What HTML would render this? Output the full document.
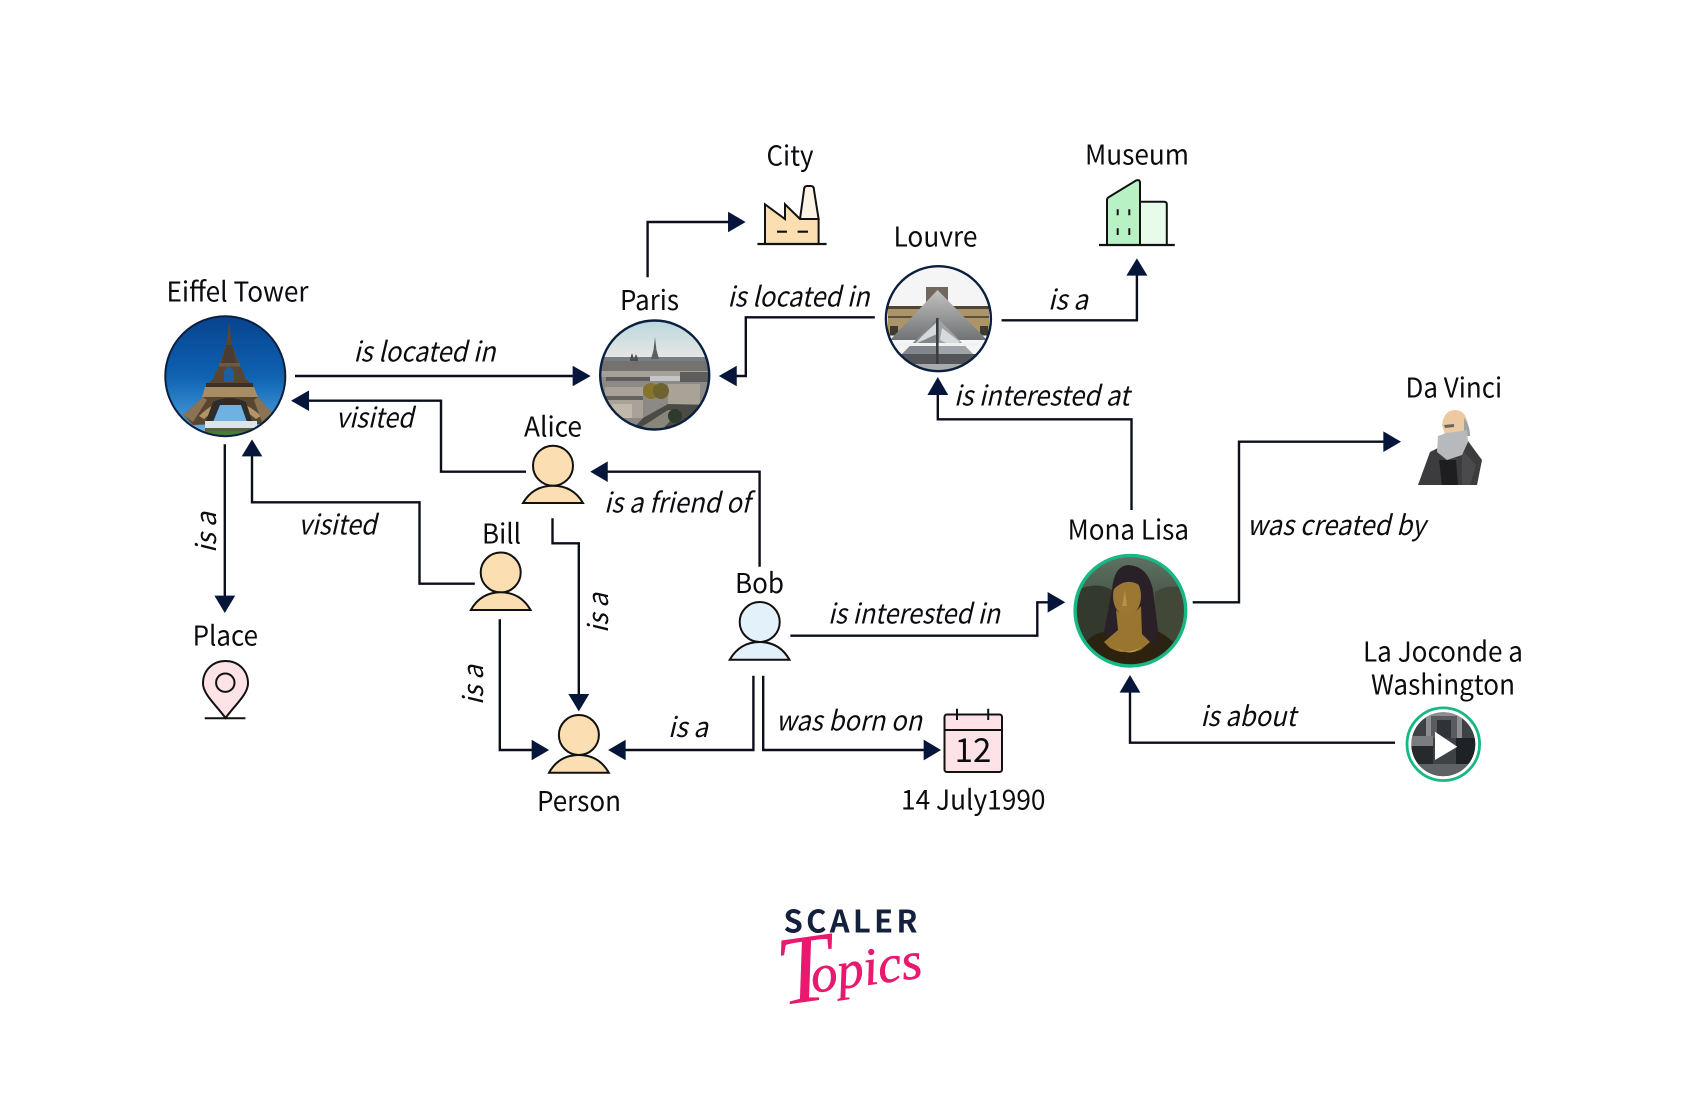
<!DOCTYPE html>
<html><head><meta charset="utf-8"><style>
html,body{margin:0;padding:0;background:#fff;width:1700px;height:1120px;overflow:hidden}
svg{display:block}
text{font-family:"Noto Sans CJK JP","Liberation Sans",sans-serif;font-size:27.5px;fill:#0c0c10}
.e{font-style:italic}
.l{fill:none;stroke:#0b0f1c;stroke-width:2.4}
.a{fill:#05163a;stroke:#05163a;stroke-width:.7}
.ic{stroke:#111;stroke-width:2}
</style></head><body>
<svg width="1700" height="1120" viewBox="0 0 1700 1120" xmlns="http://www.w3.org/2000/svg">
<defs>
<clipPath id="c1"><circle cx="225.5" cy="376" r="60"/></clipPath>
<clipPath id="c2"><circle cx="654.7" cy="375" r="54.5"/></clipPath>
<clipPath id="c3"><circle cx="938.4" cy="318.7" r="52"/></clipPath>
<clipPath id="c4"><circle cx="1130.4" cy="610.7" r="55"/></clipPath>
<clipPath id="c5"><circle cx="1443.3" cy="744.2" r="32"/></clipPath>
<linearGradient id="sky" x1="0" y1="0" x2="0" y2="1"><stop offset="0" stop-color="#07428c"/><stop offset=".5" stop-color="#0e62b2"/><stop offset=".85" stop-color="#3f95d6"/><stop offset="1" stop-color="#8cc4ea"/></linearGradient>
<linearGradient id="psky" x1="0" y1="0" x2="0" y2="1"><stop offset="0" stop-color="#b9d7df"/><stop offset=".35" stop-color="#e9e7e2"/></linearGradient>
<linearGradient id="msky" x1="0" y1="0" x2="0" y2="1"><stop offset="0" stop-color="#5f7365"/><stop offset=".5" stop-color="#43503f"/><stop offset="1" stop-color="#2e3020"/></linearGradient>
<linearGradient id="pyr" x1="0" y1="0" x2="0" y2="1"><stop offset="0" stop-color="#c2c2c0"/><stop offset="1" stop-color="#707274"/></linearGradient>
</defs>

<!-- connectors -->
<path class="l" d="M295 376H576"/><path class="a" d="M590 376L573 366.3V385.7Z"/>
<path class="l" d="M647.6 277.3V222H730"/><path class="a" d="M745 222L728.4 212.3V231.7Z"/>
<path class="l" d="M874.8 317.3H745.8V376H734"/><path class="a" d="M719.5 376L736.4 366.3V385.7Z"/>
<path class="l" d="M526 471.7H441V400.7H306"/><path class="a" d="M291.8 400.7L308.7 391V410.4Z"/>
<path class="l" d="M552.5 518.3V543.3H578.8V697"/><path class="a" d="M578.8 710.7L569 694.3H588.6Z"/>
<path class="l" d="M224.8 444.3V598"/><path class="a" d="M224.8 612.3L215 596H234.6Z"/>
<path class="l" d="M474.8 583.7H419.5V502.3H252V454"/><path class="a" d="M252 440L242.3 456H261.7Z"/>
<path class="l" d="M499.8 619.3V750H534"/><path class="a" d="M548.5 750L532 740.3V759.7Z"/>
<path class="l" d="M753.4 675.7V750H623"/><path class="a" d="M608.8 750L625.3 740.3V759.7Z"/>
<path class="l" d="M763.2 675.7V750H926"/><path class="a" d="M940.4 750L924 740.3V759.7Z"/>
<path class="l" d="M759.6 566.7V471.7H605"/><path class="a" d="M591 471.7L607.4 462V481.4Z"/>
<path class="l" d="M790.4 635.7H1037.3V602.3H1050"/><path class="a" d="M1064.6 602.3L1048 592.6V612Z"/>
<path class="l" d="M1131.5 510V419.3H937.8V392"/><path class="a" d="M937.8 377.7L928 394.7H947.6Z"/>
<path class="l" d="M1001.6 320.3H1136.9V273"/><path class="a" d="M1136.9 259L1127 275.3H1146.8Z"/>
<path class="l" d="M1192.7 602.3H1239V441.7H1386"/><path class="a" d="M1400.3 441.7L1383.7 432V451.4Z"/>
<path class="l" d="M1395 742.7H1130V690"/><path class="a" d="M1130 675.7L1120.2 692.3H1139.8Z"/>

<!-- Eiffel photo -->
<g clip-path="url(#c1)">
<rect x="165" y="315" width="122" height="122" fill="url(#sky)"/>
<path d="M229 322L232 345L239 363L246 379L253 385L258 397L272 413L262 424L240 424L236 404H222L217 424L193 425L183 415L203 397L206 385L213 379L220 363L226 345Z" fill="#5a4630"/>
<path d="M226 345H232L236 363H222Z" fill="#4a3c30"/>
<path d="M224 372Q229 362 234 372V382H224Z" fill="#1c5ea6"/>
<rect x="219" y="363" width="21" height="3.5" fill="#6b5a44"/>
<rect x="206" y="383" width="47" height="4" fill="#3c3026"/>
<path d="M205 387H254L258 397H202Z" fill="#a88d64"/>
<path d="M199 416Q229 386 261 416L256 419Q229 396 204 419Z" fill="#b19467"/>
<path d="M213 402Q229 394 246 402L252 421H206Z" fill="#2f2c2a"/>
<path d="M220 405H241L247 422H213Z" fill="#6fb2e2"/>
<path d="M183 415L203 397L207 400L193 422Z" fill="#8a7352"/>
<path d="M272 413L258 397L254 400L262 422Z" fill="#8a7352"/>
<rect x="205" y="421" width="52" height="9" fill="#dbe4e6"/>
<rect x="205" y="428" width="50" height="3" fill="#56603f"/>
<rect x="165" y="431" width="122" height="7" fill="#4a7a3a"/>
</g>
<circle cx="225.3" cy="376.2" r="60" fill="none" stroke="#0b1f3e" stroke-width="2"/>

<!-- Paris photo -->
<g clip-path="url(#c2)">
<rect x="599" y="320" width="112" height="112" fill="url(#psky)"/>
<rect x="599" y="358" width="112" height="75" fill="#8d8986"/>
<rect x="599" y="357" width="112" height="4" fill="#777f86"/>
<path d="M655 337L656.5 350L659 359H651L653.5 350Z" fill="#5a6068"/>
<path d="M630 366V359L632 353L634 359L636 354L638 359V366Z" fill="#4a4c58"/>
<rect x="599" y="361" width="112" height="10" fill="#74716f"/>
<rect x="599" y="371" width="112" height="6" fill="#a5a09a"/>
<rect x="606" y="377" width="44" height="4" fill="#5e5a5c"/>
<rect x="650" y="376" width="30" height="5" fill="#c4c6c6"/>
<rect x="680" y="372" width="30" height="10" fill="#5f5d5c"/>
<rect x="605" y="387" width="38" height="31" fill="#a9a299"/>
<rect x="605" y="396" width="38" height="4" fill="#666262"/>
<rect x="612" y="404" width="20" height="14" fill="#c0b8aa"/>
<rect x="668" y="384" width="32" height="20" fill="#a8a297"/>
<circle cx="651" cy="391" r="8" fill="#86732e"/><circle cx="661" cy="391" r="8" fill="#6c6330"/>
<path d="M643 418L668 404L700 405L690 432H630Z" fill="#4a4a46"/>
<path d="M640 428L668 410L680 410L660 432Z" fill="#8a857a"/>
<circle cx="675" cy="416" r="7" fill="#2f3a2e"/>
</g>
<circle cx="654.7" cy="375" r="54.5" fill="none" stroke="#0b1f3e" stroke-width="2.4"/>

<!-- Louvre photo -->
<g clip-path="url(#c3)">
<rect x="885" y="265" width="108" height="108" fill="#f6f5f5"/>
<rect x="888" y="306" width="101" height="30" fill="#ac9468"/>
<rect x="888" y="306" width="101" height="3" fill="#4e4538"/>
<rect x="888" y="316" width="101" height="2" fill="#5e503a"/>
<rect x="890" y="326" width="8" height="9" fill="#3e3a34"/><rect x="980" y="326" width="8" height="9" fill="#3e3a34"/>
<path d="M926 287H948V302H926Z" fill="#70685f"/>
<path d="M937.5 290L987 340H890Z" fill="url(#pyr)"/>
<path d="M937.5 318L973 354H902Z" fill="#9fa4a8"/>
<path d="M937.5 318V354H902Z" fill="#81878c"/>
<path d="M922 336L937 322V334L915 344Z" fill="#d6d9da"/><path d="M942 328L960 342L952 346L940 340Z" fill="#d8dbdc"/>
<rect x="897" y="343" width="82" height="3" fill="#f0f1f1"/>
<rect x="885" y="354" width="108" height="10" fill="#54565a"/>
<rect x="885" y="364" width="108" height="10" fill="#a9aaac"/>
<rect x="936" y="318" width="2.6" height="46" fill="#3a3d42"/>
</g>
<circle cx="938.4" cy="318.7" r="52.5" fill="none" stroke="#0b1f3e" stroke-width="2.4"/>

<!-- Mona Lisa -->
<g clip-path="url(#c4)">
<rect x="1074" y="554" width="114" height="114" fill="url(#msky)"/>
<path d="M1074 592Q1095 580 1112 590V640H1074Z" fill="#33392c"/>
<path d="M1188 590Q1170 582 1155 592V640H1188Z" fill="#414838"/>
<path d="M1070 668Q1085 632 1106 632L1132 660L1150 628Q1175 636 1192 668Z" fill="#2c2212"/>
<path d="M1112 590Q1114 566 1128 565Q1148 566 1153 590L1158 630L1156 645L1140 640L1112 640L1104 632Z" fill="#2a2028"/>
<ellipse cx="1127" cy="596" rx="14" ry="20" fill="#9a7834"/>
<path d="M1113 590Q1126 576 1141 586L1143 574Q1128 566 1116 576Z" fill="#2a2028"/>
<path d="M1125 590L1127 606L1122 606Z" fill="#b89244"/>
<path d="M1116 610Q1128 622 1141 606L1142 634L1150 642L1138 652H1114L1104 642L1118 630Z" fill="#9a7530"/>
<path d="M1116 648Q1128 656 1142 646L1132 654Z" fill="#c09a44"/>
<path d="M1104 644Q1128 662 1154 642L1158 668H1102Z" fill="#2e220f"/>
</g>
<circle cx="1130.4" cy="610.7" r="55.3" fill="none" stroke="#17b884" stroke-width="3.4"/>

<!-- Video -->
<circle cx="1443.3" cy="744.2" r="36.3" fill="#fff" stroke="#17b884" stroke-width="2.8"/>
<g clip-path="url(#c5)">
<rect x="1408" y="710" width="72" height="72" fill="#3e4246"/>
<rect x="1426" y="712" width="36" height="26" fill="#8c8e90"/>
<rect x="1431" y="716" width="26" height="22" fill="#5a5c5f"/>
<rect x="1437" y="720" width="14" height="18" fill="#2f3236"/>
<rect x="1409" y="736" width="24" height="10" fill="#7b7e80"/>
<rect x="1409" y="746" width="24" height="18" fill="#262a2d"/>
<rect x="1456" y="738" width="24" height="26" fill="#1e2226"/>
<rect x="1418" y="764" width="50" height="18" fill="#5e6266"/>
</g>
<circle cx="1443.3" cy="744.2" r="32.8" fill="none" stroke="#fff" stroke-width="1.2"/>
<path d="M1435 731.7L1457.3 746.7L1435 760Z" fill="#fff"/>

<!-- Da Vinci -->
<path d="M1418 485L1430 452L1440 447L1468 441L1482 460L1477 485Z" fill="#3c3c3e"/>
<path d="M1439 460L1456 460L1458 485H1442Z" fill="#1e1e20"/>
<path d="M1462 450L1476 465L1470 485L1462 485Z" fill="#4a4a4c"/>
<path d="M1442 425Q1444 410 1455 410Q1466 410 1468 425L1466 438H1446Z" fill="#ecc9a0"/>
<path d="M1464 418Q1470 425 1470 436L1464 436Z" fill="#9ea2a4"/>
<path d="M1444 425L1454 424L1454 427L1445 428Z" fill="#6a6460"/>
<path d="M1438 436L1446 433Q1456 432 1467 430L1468 442L1462 455L1447 460L1437 452Z" fill="#b6babc"/>

<!-- City icon -->
<path d="M800 219L804 190Q804 186 807 186H811Q814 186 814 190L818.6 219Z" fill="#fdf3e4" class="ic"/>
<path d="M765 244V204.3L785 219V204.3L800 219H818.6V244Z" fill="#fbdfb0" class="ic"/>
<path d="M777 231.7H787M797.6 231.7H808" stroke="#111" stroke-width="2.2"/>
<path d="M757.4 244H826.6" stroke="#111" stroke-width="2.2"/>

<!-- Museum icon -->
<path d="M1140 201.7H1164Q1166.8 201.7 1166.8 204V245H1140Z" fill="#e6fbe9" class="ic"/>
<path d="M1107 245V200Q1107 198 1109 197L1136 180.5Q1140 179 1140 183V245Z" fill="#b8f2c4" class="ic"/>
<path d="M1117.7 209.3V215.3M1129.3 209.3V215.3M1117.7 228.3V235M1129.3 228.3V235" stroke="#111" stroke-width="2"/>
<path d="M1099 245H1174.8" stroke="#111" stroke-width="2.2"/>

<!-- Persons -->
<g fill="#fbdfb2" class="ic" stroke-width="1.6">
<circle cx="553" cy="465.7" r="20"/><path d="M523 503Q533 485.7 553 485.7T583 503Z"/>
<circle cx="500.7" cy="572.5" r="20"/><path d="M470.8 610Q481 592.3 500.7 592.3T530.6 610Z"/>
<circle cx="578.9" cy="735" r="20"/><path d="M549 772.7Q559 755 578.9 755T608.8 772.7Z"/>
</g>
<g fill="#e3f1fb" class="ic" stroke-width="1.6">
<circle cx="759.7" cy="622" r="20"/><path d="M729.7 659.7Q740 642 759.7 642T789.5 659.7Z"/>
</g>

<!-- Pin -->
<path d="M225.5 718C216 705 203 694 203 683.5C203 670 213 661 225.5 661S248 670 248 683.5C248 694 235 705 225.5 718Z" fill="#fde3e6" class="ic"/>
<circle cx="225.3" cy="682.7" r="9.2" fill="#fde3e6" class="ic"/>
<path d="M204.7 718.3H245.4" stroke="#111" stroke-width="2"/>

<!-- Calendar -->
<rect x="944.5" y="714.5" width="57.5" height="57.5" rx="2.5" fill="#fde3e8" class="ic"/>
<path d="M944.5 730H1002M957 708.7V720M988.2 708.7V720" stroke="#111" stroke-width="2"/>
<text x="973" y="762" text-anchor="middle" style="font-size:33px">12</text>

<!-- node labels -->
<text x="766.5" y="165.5" textLength="47" lengthAdjust="spacingAndGlyphs">City</text>
<text x="166.5" y="301.7" textLength="142" lengthAdjust="spacingAndGlyphs">Eiffel Tower</text>
<text x="620" y="310" textLength="59" lengthAdjust="spacingAndGlyphs">Paris</text>
<text x="524" y="436.7" textLength="58" lengthAdjust="spacingAndGlyphs">Alice</text>
<text x="482" y="543.7" textLength="39" lengthAdjust="spacingAndGlyphs">Bill</text>
<text x="537" y="811" textLength="84" lengthAdjust="spacingAndGlyphs">Person</text>
<text x="735" y="592.8" textLength="49" lengthAdjust="spacingAndGlyphs">Bob</text>
<text x="192.6" y="645.3" textLength="65.4" lengthAdjust="spacingAndGlyphs">Place</text>
<text x="901" y="809.3" textLength="144.5" lengthAdjust="spacingAndGlyphs">14 July1990</text>
<text x="1067.6" y="539.3" textLength="121.4" lengthAdjust="spacingAndGlyphs">Mona Lisa</text>
<text x="893.5" y="246.7" textLength="84" lengthAdjust="spacingAndGlyphs">Louvre</text>
<text x="1085" y="164.3" textLength="104" lengthAdjust="spacingAndGlyphs">Museum</text>
<text x="1405.5" y="397.4" textLength="96.6" lengthAdjust="spacingAndGlyphs">Da Vinci</text>
<text x="1363" y="661.7" textLength="160" lengthAdjust="spacingAndGlyphs">La Joconde a</text>
<text x="1371" y="694.5" textLength="144" lengthAdjust="spacingAndGlyphs">Washington</text>

<!-- edge labels -->
<text class="e" x="353.5" y="361.5" textLength="142" lengthAdjust="spacingAndGlyphs">is located in</text>
<text class="e" x="727.5" y="306.5" textLength="142" lengthAdjust="spacingAndGlyphs">is located in</text>
<text class="e" x="336" y="427.5" textLength="77.5" lengthAdjust="spacingAndGlyphs">visited</text>
<text class="e" x="298.5" y="534.5" textLength="78" lengthAdjust="spacingAndGlyphs">visited</text>
<text class="e" x="604" y="512.5" textLength="146" lengthAdjust="spacingAndGlyphs">is a friend of</text>
<text class="e" x="668" y="737.2" textLength="40" lengthAdjust="spacingAndGlyphs">is a</text>
<text class="e" x="776" y="730.5" textLength="146" lengthAdjust="spacingAndGlyphs">was born on</text>
<text class="e" x="828" y="623.5" textLength="172" lengthAdjust="spacingAndGlyphs">is interested in</text>
<text class="e" x="954" y="405.5" textLength="175.5" lengthAdjust="spacingAndGlyphs">is interested at</text>
<text class="e" x="1048" y="309.5" textLength="40" lengthAdjust="spacingAndGlyphs">is a</text>
<text class="e" x="1247" y="534.8" textLength="178.5" lengthAdjust="spacingAndGlyphs">was created by</text>
<text class="e" x="1200.5" y="726" textLength="95.5" lengthAdjust="spacingAndGlyphs">is about</text>
<text class="e" transform="rotate(-90 216 553)" x="216" y="553" textLength="41" lengthAdjust="spacingAndGlyphs">is a</text>
<text class="e" transform="rotate(-90 483 705)" x="483" y="705" textLength="40" lengthAdjust="spacingAndGlyphs">is a</text>
<text class="e" transform="rotate(-90 608 633)" x="608" y="633" textLength="40" lengthAdjust="spacingAndGlyphs">is a</text>

<!-- logo -->
<text x="783.5" y="932.3" textLength="134" style="font-size:31px;font-weight:700;fill:#14213d">SCALER</text>
<text transform="rotate(-8 811 993)" style="font-family:'Liberation Serif',serif;font-style:italic;fill:#e8196f"><tspan x="780" y="1001" style="font-size:98px">T</tspan><tspan x="813" y="993" style="font-size:53px;stroke:#e8196f;stroke-width:.6">opics</tspan></text>
</svg>
</body></html>
